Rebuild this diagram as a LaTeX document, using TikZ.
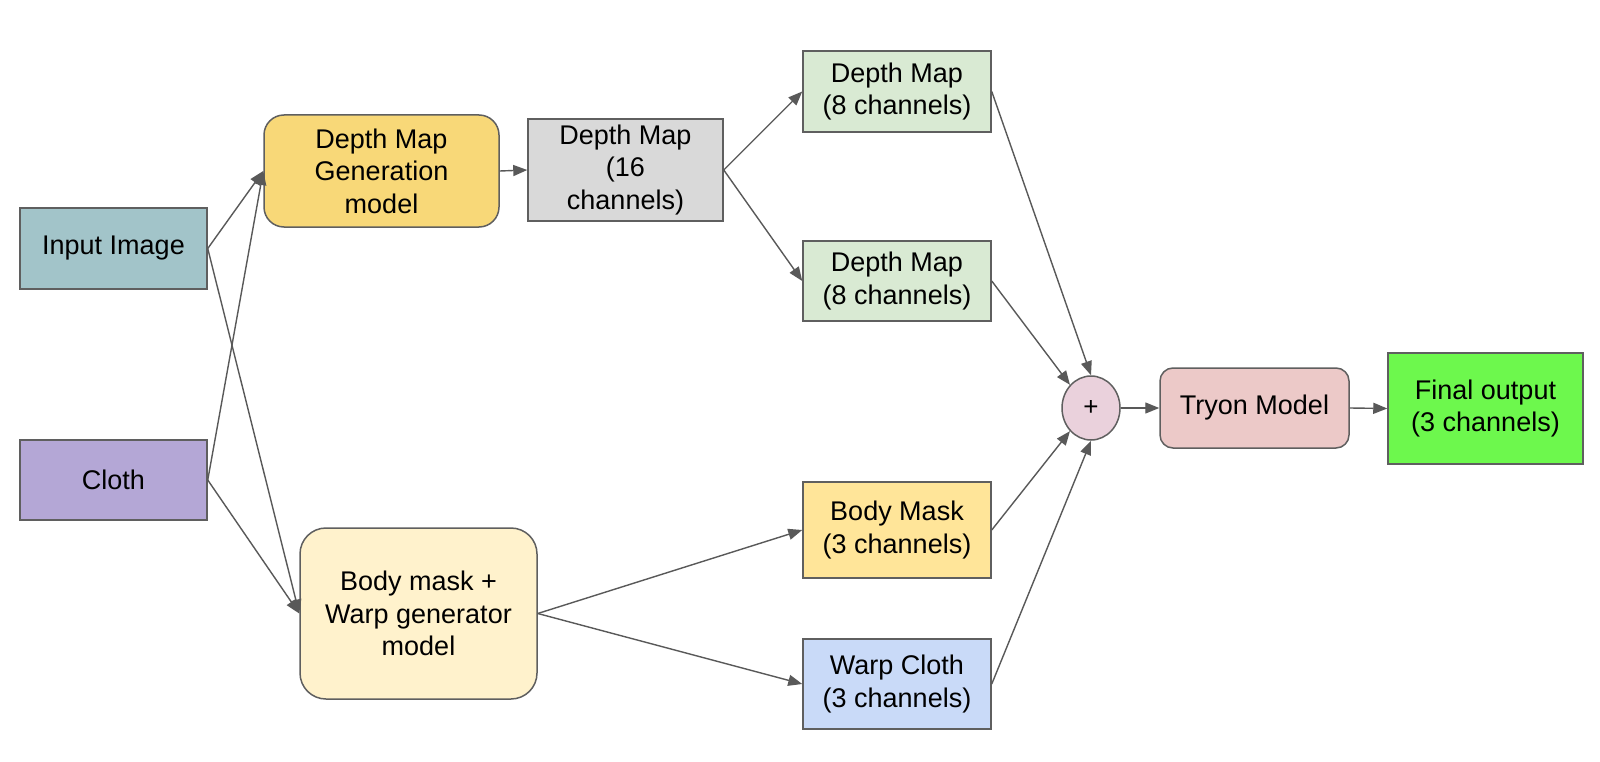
\documentclass[tikz,border=0pt]{standalone}
\usepackage{fontspec}
\setmainfont{Liberation Sans}
\usetikzlibrary{arrows.meta,shapes.geometric}
\definecolor{edgegrey}{HTML}{595959}
\definecolor{boxline}{HTML}{5F5F5F}
\definecolor{cInput}{HTML}{A2C4C9}
\definecolor{cCloth}{HTML}{B4A7D6}
\definecolor{cDMG}{HTML}{F8D878}
\definecolor{cDMsixteen}{HTML}{D9D9D9}
\definecolor{cDMeight}{HTML}{D9EAD3}
\definecolor{cBodyMask}{HTML}{FFE599}
\definecolor{cWarpGen}{HTML}{FFF2CC}
\definecolor{cWarpCloth}{HTML}{C9DAF8}
\definecolor{cPlus}{HTML}{EAD1DC}
\definecolor{cTryon}{HTML}{ECC9C8}
\definecolor{cFinal}{HTML}{6DF84D}
\tikzset{
  base/.style={draw=boxline, line width=1.5pt, align=center, inner sep=0pt,
    font=\fontsize{27}{32.6}\selectfont, text=black},
  sqbox/.style={base, rectangle},
  rbox/.style={base, rectangle, rounded corners=#1},
  conn/.style={draw=edgegrey, line width=1.4pt, -{Triangle[length=14pt,width=11pt]}},
}
\begin{document}
\begin{tikzpicture}[x=1pt,y=-1pt]
\useasboundingbox (0,0) rectangle (1600,762);
\fill[white] (0,0) rectangle (1600,762);

\node[sqbox, fill=cInput, minimum width=187pt, minimum height=81pt] (input) at (113.5,248.5) {\raisebox{-3pt}{Input Image}};
\node[sqbox, fill=cCloth, minimum width=187pt, minimum height=80pt] (cloth) at (113.5,480) {\raisebox{-3pt}{Cloth}};
\node[rbox=20pt, fill=cDMG, minimum width=235pt, minimum height=112pt] (dmg) at (381.5,171) {Depth Map\\Generation\\model};
\node[sqbox, fill=cDMsixteen, minimum width=195pt, minimum height=102pt] (dm16) at (625.5,170) {Depth Map\\(16\\channels)};
\node[sqbox, fill=cDMeight, minimum width=188pt, minimum height=81pt] (dma) at (897,91.5) {Depth Map\\(8 channels)};
\node[sqbox, fill=cDMeight, minimum width=188pt, minimum height=80pt] (dmb) at (897,281) {Depth Map\\(8 channels)};
\node[rbox=26pt, fill=cWarpGen, minimum width=237pt, minimum height=171pt] (bwg) at (418.5,613.5) {Body mask +\\Warp generator\\model};
\node[sqbox, fill=cBodyMask, minimum width=188pt, minimum height=96pt] (bmask) at (897,530) {Body Mask\\(3 channels)};
\node[sqbox, fill=cWarpCloth, minimum width=188pt, minimum height=90pt] (wcloth) at (897,684) {Warp Cloth\\(3 channels)};
\node[base, ellipse, fill=cPlus, minimum width=58pt, minimum height=64pt, font=\fontsize{26}{28}\selectfont] (plus) at (1091,408) {+};
\node[rbox=13pt, fill=cTryon, minimum width=189pt, minimum height=80pt] (tryon) at (1254.5,408) {\raisebox{-3pt}{Tryon Model}};
\node[sqbox, fill=cFinal, minimum width=195pt, minimum height=111pt] (final) at (1485.5,408.5) {Final output\\(3 channels)};

\draw[conn] (input.east) -- (dmg.west);
\draw[conn] (input.east) -- (bwg.west);
\draw[conn] (cloth.east) -- (dmg.west);
\draw[conn] (cloth.east) -- (bwg.west);
\draw[conn] (dmg.east) -- (dm16.west);
\draw[conn] (dm16.east) -- (dma.west);
\draw[conn] (dm16.east) -- (dmb.west);
\draw[conn] (bwg.east) -- (bmask.west);
\draw[conn] (bwg.east) -- (wcloth.west);
\draw[conn] (dma.east) -- (plus.north);
\draw[conn] (dmb.east) -- (plus.north west);
\draw[conn] (bmask.east) -- (plus.south west);
\draw[conn] (wcloth.east) -- (plus.south);
\draw[conn] (plus.east) -- (tryon.west);
\draw[conn] (tryon.east) -- (final.west);
\end{tikzpicture}
\end{document}
